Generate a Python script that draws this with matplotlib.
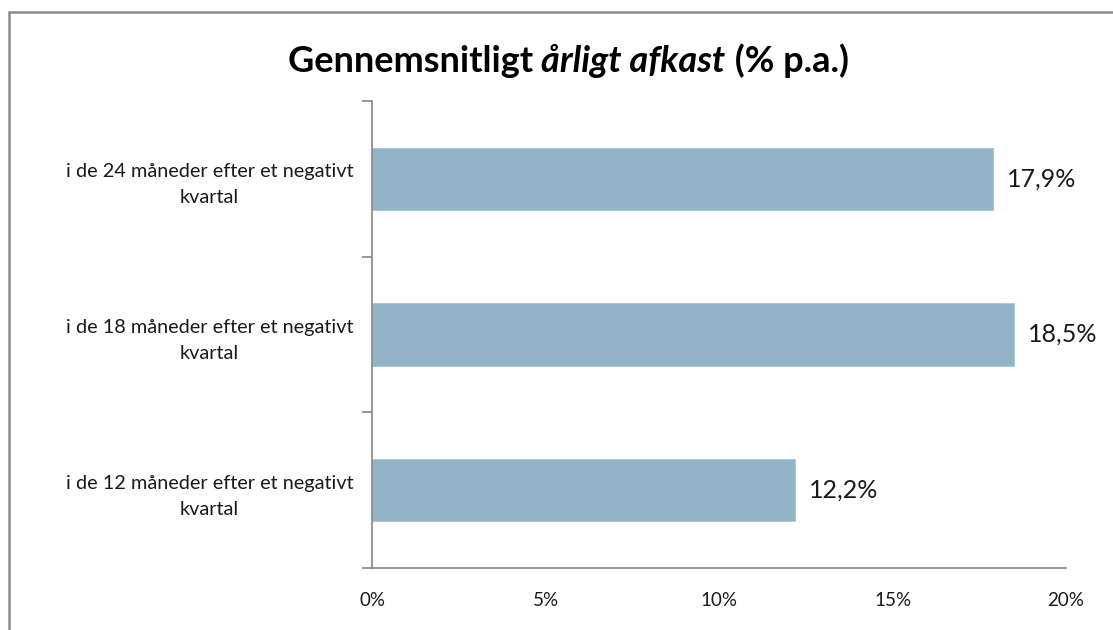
import matplotlib
matplotlib.use("Agg")
import matplotlib.pyplot as plt
from matplotlib.patches import Rectangle
from matplotlib.ticker import FixedLocator

categories = [
    "i de 24 måneder efter et negativt\nkvartal",
    "i de 18 måneder efter et negativt\nkvartal",
    "i de 12 måneder efter et negativt\nkvartal",
]
values = [17.9, 18.5, 12.2]
value_labels = ["17,9%", "18,5%", "12,2%"]
xticks = [0, 5, 10, 15, 20]
xticklabels = ["0%", "5%", "10%", "15%", "20%"]

plt.rcParams['font.family'] = ['Lato', 'DejaVu Sans']

W, H = 1113, 630
fig = plt.figure(figsize=(W / 100, H / 100), dpi=100)
fig.patch.set_facecolor("white")

ax = fig.add_axes([372 / W, 1 - 568 / H, (1066 - 372) / W, (568 - 101) / H])

ypos = list(range(len(categories)))
bar_color = "#93b3c6"
ax.barh(ypos, values, height=0.4, color=bar_color, edgecolor="#a9c3d3", linewidth=0.6)
ax.set_ylim(len(categories) - 0.5, -0.5)
ax.set_xlim(0, 20)

ax.set_yticks(ypos)
ax.set_yticklabels(categories, fontsize=14.3, color="#1a1a1a", multialignment="center",
                   linespacing=1.65)
ax.tick_params(axis="y", which="major", length=0, pad=13.5)
ax.yaxis.set_minor_locator(FixedLocator([-0.5, 0.5, 1.5, 2.5]))
ax.tick_params(axis="y", which="minor", length=7, width=1.2, color="#868686", direction="out")

ax.set_xticks(xticks)
ax.set_xticklabels(xticklabels, fontsize=13.5, color="#1a1a1a")
ax.tick_params(axis="x", length=0, pad=17)

for s in ["top", "right"]:
    ax.spines[s].set_visible(False)
for s in ["left", "bottom"]:
    ax.spines[s].set_color("#868686")
    ax.spines[s].set_linewidth(1.2)

for y, v, lab in zip(ypos, values, value_labels):
    ax.annotate(lab, xy=(v, y), xytext=(10, 0), textcoords="offset points",
                va="center", ha="left", fontsize=18, color="#1a1a1a")

# Title with mixed style
fig.canvas.draw()
renderer = fig.canvas.get_renderer()
parts = [("Gennemsnitligt ", "normal"), ("årligt afkast", "italic"), (" (% p.a.)", "normal")]
texts = []
for s, style in parts:
    t = fig.text(0, 0, s, fontsize=26, fontweight="bold", fontstyle=style, color="black",
                 va="center", ha="left")
    texts.append(t)
widths = [t.get_window_extent(renderer).width for t in texts]
total = sum(widths)
cx = 568
x = cx - total / 2
for t, w in zip(texts, widths):
    t.set_position((x / W, 1 - 61 / H))
    x += w

# Figure border
fig.add_artist(Rectangle((9 / W, -0.1), 1.2, 1 - 12 / H + 0.1, transform=fig.transFigure,
                         fill=False, edgecolor="#8c8c8c", linewidth=1.8))

fig.savefig("out.png", dpi=100, facecolor="white")
